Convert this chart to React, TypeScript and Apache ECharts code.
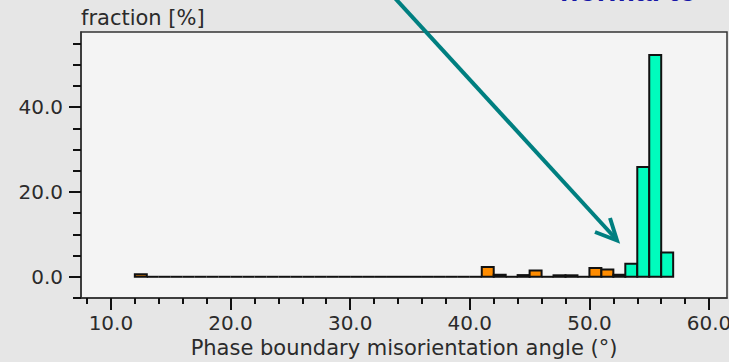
import React, { useEffect, useRef } from "react";
import * as echarts from "echarts";

// Histogram bins (lower edge, degrees), each 1° wide
const binStart = [
  12, 13, 14, 15, 16, 17, 18, 19, 20, 21, 22, 23, 24, 25, 26, 27, 28, 29, 30,
  31, 32, 33, 34, 35, 36, 37, 38, 39, 40, 41, 42, 43, 44, 45, 46, 47, 48, 49,
  50, 51, 52, 53, 54, 55, 56,
];
// fraction [%] per bin
const fraction = [
  0.6, 0, 0, 0, 0, 0, 0, 0, 0, 0, 0, 0, 0, 0, 0, 0, 0, 0, 0, 0, 0, 0, 0, 0, 0,
  0, 0, 0, 0, 2.3, 0.5, 0, 0.4, 1.5, 0, 0.35, 0.35, 0, 2.1, 1.7, 0.5, 3.1,
  25.9, 52.3, 5.7,
];
// colour group per bin: 0 = orange, 1 = spring green
const phase = [
  0, 0, 0, 0, 0, 0, 0, 0, 0, 0, 0, 0, 0, 0, 0, 0, 0, 0, 0, 0, 0, 0, 0, 0, 0,
  0, 0, 0, 0, 0, 0, 0, 0, 0, 0, 0, 0, 0, 0, 0, 0, 1, 1, 1, 1,
];
const phaseColors = ["#ff8c00", "#00fcbd"];

const xMajorTicks = [10, 20, 30, 40, 50, 60];
const xMinorTicks = [8, 12, 14, 16, 18, 22, 24, 26, 28, 32, 34, 36, 38, 42, 44, 46, 48, 52, 54, 56, 58];
const yMajorTicks = [0, 20, 40];
const yMinorTicks = [-5, 5, 10, 15, 25, 30, 35, 45, 50, 55];

const xTitle = "Phase boundary misorientation angle (°)";
const yTitle = "fraction [%]";
const noteText = "normal to";

const FONT = "DejaVu Sans";
const TXT = "#2b2b2b";

export default function App() {
  const ref = useRef<HTMLDivElement>(null);
  useEffect(() => {
    if (!ref.current) return;
    const chart = echarts.init(ref.current, undefined, { renderer: "svg" });
    const data = binStart.map((s, i) => [s, s + 1, fraction[i], phase[i]]);
    const xRange = { min: 7.5, max: 61.5 };
    const yRange = { min: -5, max: 57.7 };
    chart.setOption({
      animation: false,
      backgroundColor: "#e6e6e6",
      grid: {
        left: 81,
        right: 2,
        top: 32,
        bottom: 64,
        containLabel: false,
        outerBoundsMode: "none",
        show: true,
        backgroundColor: "#f4f4f4",
        borderColor: "#333",
        borderWidth: 1.5,
      },
      xAxis: [
        {
          type: "value",
          ...xRange,
          position: "bottom",
          splitLine: { show: false },
          axisLine: { show: true, onZero: false, lineStyle: { color: "#333", width: 1.5 } },
          axisTick: { show: true, customValues: xMajorTicks, length: 12, lineStyle: { color: "#111", width: 2 } },
          axisLabel: {
            customValues: xMajorTicks,
            formatter: (v: number) => v.toFixed(1),
            fontFamily: FONT,
            fontSize: 20,
            color: TXT,
            margin: 15,
          },
          name: xTitle,
          nameLocation: "middle",
          nameGap: 39,
          nameTextStyle: { fontFamily: FONT, fontSize: 21, color: TXT },
        },
        {
          type: "value",
          ...xRange,
          position: "bottom",
          splitLine: { show: false },
          axisLine: { show: false, onZero: false },
          axisTick: { show: true, customValues: xMinorTicks, length: 6, lineStyle: { color: "#111", width: 2 } },
          axisLabel: { show: false },
        },
      ],
      yAxis: [
        {
          type: "value",
          ...yRange,
          position: "left",
          splitLine: { show: false },
          axisLine: { show: true, onZero: false, lineStyle: { color: "#333", width: 1.5 } },
          axisTick: { show: true, customValues: yMajorTicks, length: 12, lineStyle: { color: "#111", width: 2 } },
          axisLabel: {
            customValues: yMajorTicks,
            formatter: (v: number) => v.toFixed(1),
            fontFamily: FONT,
            fontSize: 20,
            color: TXT,
            margin: 18,
          },
          name: yTitle,
          nameLocation: "end",
          nameGap: 4,
          nameTextStyle: { fontFamily: FONT, fontSize: 21, color: TXT, align: "left", verticalAlign: "bottom" },
        },
        {
          type: "value",
          ...yRange,
          position: "left",
          splitLine: { show: false },
          axisLine: { show: false, onZero: false },
          axisTick: { show: true, customValues: yMinorTicks, length: 8, lineStyle: { color: "#111", width: 2 } },
          axisLabel: { show: false },
        },
      ],
      series: [
        {
          type: "custom",
          xAxisIndex: 0,
          yAxisIndex: 0,
          data,
          encode: { x: [0, 1], y: 2 },
          renderItem: (params: any, api: any) => {
            const x0 = api.value(0);
            const x1 = api.value(1);
            const v = api.value(2);
            const ph = api.value(3);
            const a = api.coord([x0, 0]);
            const b = api.coord([x1, v]);
            if (v <= 0) {
              return {
                type: "line",
                shape: { x1: a[0], y1: a[1], x2: b[0], y2: a[1] },
                style: { stroke: "#111", lineWidth: 2 },
              };
            }
            return {
              type: "rect",
              shape: { x: a[0], y: b[1], width: b[0] - a[0], height: a[1] - b[1] },
              style: { fill: phaseColors[ph], stroke: "#111", lineWidth: 2 },
            };
          },
        },
      ],
      graphic: [
        {
          type: "text",
          z: 100,
          style: {
            text: noteText,
            x: 560,
            y: 5.5,
            verticalAlign: "bottom",
            font: "bold 30px 'Liberation Sans'",
            fill: "#1616a6",
          },
        },
        {
          type: "line",
          z: 100,
          shape: { x1: 387.5, y1: -10, x2: 616, y2: 239 },
          style: { stroke: "#007f80", lineWidth: 4 },
        },
        {
          type: "polyline",
          z: 100,
          shape: { points: [[610, 218], [617, 240.5], [595, 232]] },
          style: { stroke: "#007f80", lineWidth: 4, fill: null, lineJoin: "miter" },
        },
      ],
    });
    return () => chart.dispose();
  }, []);
  return (
    <div style={{ position: "fixed", left: 0, top: 0, width: 729, height: 362, background: "#e6e6e6" }}>
      <div ref={ref} style={{ width: 729, height: 362 }} />
    </div>
  );
}
